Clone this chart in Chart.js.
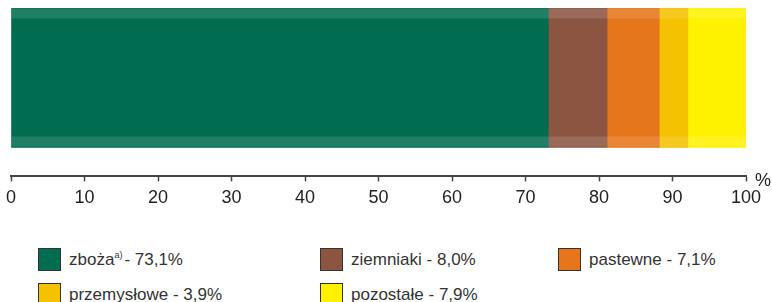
<!DOCTYPE html>
<html>
<head>
<meta charset="utf-8">
<script src="https://cdn.jsdelivr.net/npm/chart.js@4"></script>
<style>
  body { margin: 0; background: #fff; font-family: "Liberation Sans", Arial, sans-serif; }
  #wrap { position: relative; width: 772px; height: 302px; overflow: hidden; }
  #box { position: absolute; left: 0; top: 0; width: 772px; height: 215px; }
  .leg { position: absolute; display: flex; align-items: center; font-size: 17px; color: #333; white-space: nowrap; }
  .leg span.sw { width: 21px; height: 21px; border: 1.5px solid #333; margin-right: 8px; }
  .leg sup { font-size: 9px; vertical-align: 7px; margin-right: 2px; }
</style>
</head>
<body>
<div id="wrap">
  <div id="box"><canvas id="bar-chart"></canvas></div>
  <div id="legend"></div>
</div>
<script>
'use strict';
const categories = ['zboża', 'ziemniaki', 'pastewne', 'przemysłowe', 'pozostałe'];
const shares = [73.1, 8.0, 7.1, 3.9, 7.9];
const shareLabels = ['73,1%', '8,0%', '7,1%', '3,9%', '7,9%'];
const colors = ['#006c50', '#8b5542', '#e5761b', '#f5c200', '#fff200'];
const xTicks = [0, 10, 20, 30, 40, 50, 60, 70, 80, 90, 100];

// light bands along top and bottom edge of the bar
const stripes = {
  id: 'stripes',
  afterDatasetsDraw(chart) {
    const ctx = chart.ctx;
    ctx.save();
    chart.data.datasets.forEach((ds, i) => {
      chart.getDatasetMeta(i).data.forEach(bar => {
        const left = Math.min(bar.base, bar.x);
        const w = Math.abs(bar.x - bar.base);
        const top = bar.y - bar.height / 2;
        ctx.fillStyle = 'rgba(255,255,255,0.13)';
        ctx.fillRect(left, top + 1, w, 10);
        ctx.fillRect(left, top + bar.height - 11, w, 10);
      });
    });
    // percent sign at the end of the axis
    const x = chart.scales.x;
    ctx.fillStyle = '#222';
    ctx.font = '18px "Liberation Sans", Arial, sans-serif';
    ctx.textAlign = 'left';
    ctx.textBaseline = 'middle';
    ctx.fillText('%', x.right + 9, x.top + 5);
    ctx.restore();
  }
};

new Chart(document.getElementById('bar-chart'), {
  type: 'bar',
  data: {
    datasets: categories.map((c, i) => ({
      label: c,
      data: [{ x: shares[i], y: 0 }],
      backgroundColor: colors[i],
      borderWidth: 0,
      barThickness: 140
    }))
  },
  options: {
    indexAxis: 'y',
    responsive: true,
    maintainAspectRatio: false,
    animation: false,
    layout: { padding: { left: 10, right: 26, top: 8, bottom: 0 } },
    plugins: { legend: { display: false }, tooltip: { enabled: false } },
    scales: {
      y: { type: 'linear', min: -0.75, max: 0.5, stacked: true, display: false },
      x: {
        type: 'linear',
        stacked: true,
        min: 0,
        max: 100,
        afterBuildTicks: scale => { scale.ticks = xTicks.map(v => ({ value: v })); },
        border: { display: true, color: '#444', width: 2 },
        grid: { drawOnChartArea: false, drawTicks: true, tickLength: 5, color: '#444', tickWidth: 1.5 },
        ticks: {
          color: '#222',
          padding: 6,
          maxRotation: 0,
          autoSkip: false,
          font: { family: '"Liberation Sans", Arial, sans-serif', size: 18 }
        }
      }
    }
  },
  plugins: [stripes]
});

// legend grid below the chart
const legendPos = [[38, 248], [320, 248], [558, 248], [38, 283], [320, 283]];
const legend = document.getElementById('legend');
categories.forEach((c, i) => {
  const d = document.createElement('div');
  d.className = 'leg';
  d.style.left = legendPos[i][0] + 'px';
  d.style.top = legendPos[i][1] + 'px';
  const sup = i === 0 ? '<sup>a)</sup>' : ' ';
  d.innerHTML = '<span class="sw" style="background:' + colors[i] + '"></span><span>' + c + sup + '- ' + shareLabels[i] + '</span>';
  legend.appendChild(d);
});
</script>
</body>
</html>
